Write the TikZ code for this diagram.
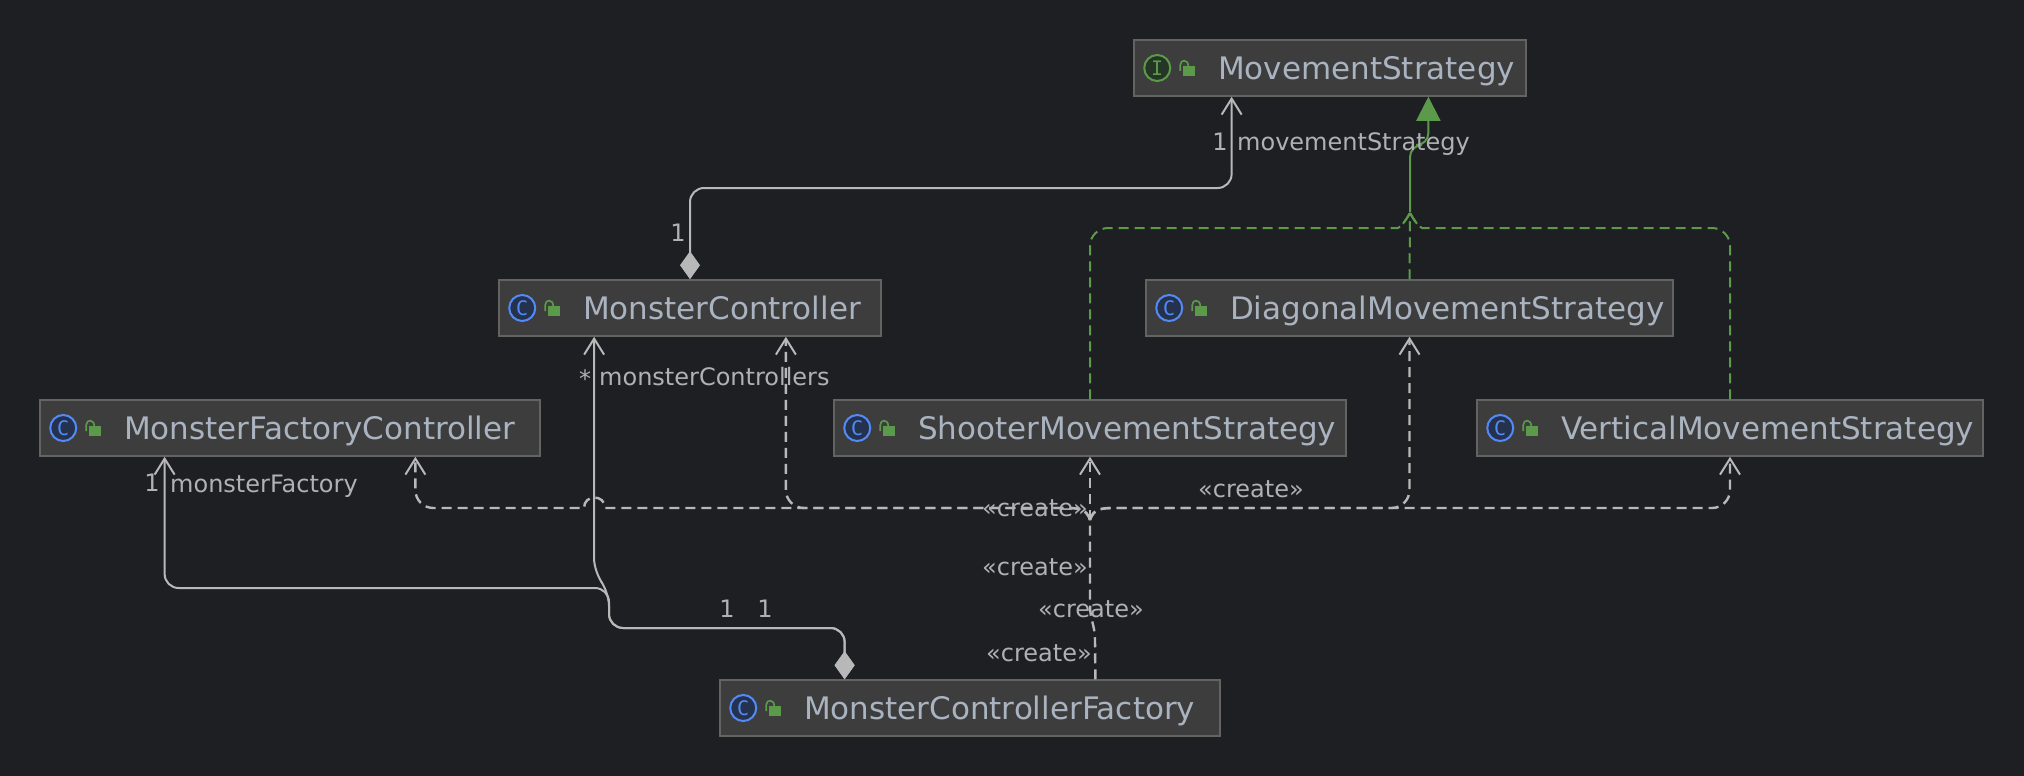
\documentclass[tikz,border=0pt]{standalone}
\usepackage{fontspec}
\setmainfont{DejaVu Sans}
\setmonofont{DejaVu Sans Mono}
\usetikzlibrary{arrows.meta}

\definecolor{canvas}{HTML}{1E1F22}
\definecolor{boxfill}{HTML}{3D3D3D}
\definecolor{boxline}{HTML}{636462}
\definecolor{classtext}{HTML}{AAB3C0}
\definecolor{labeltext}{HTML}{AFB1B3}
\definecolor{wire}{HTML}{B8B8B8}
\definecolor{inherit}{HTML}{5B9A4B}
\definecolor{classblue}{HTML}{548AF7}
\definecolor{classdark}{HTML}{25324D}
\definecolor{ifacedark}{HTML}{253627}

\tikzset{
    classbox/.style={draw=boxline, fill=boxfill, line width=1.5pt, text=classtext, font=\fontsize{31}{36}\selectfont,
        minimum height=56pt, inner xsep=8pt, inner ysep=0pt, align=left, text height=28pt, text depth=6pt,
        execute at begin node=\hspace*{76pt}},
    edgelabel/.style={text=labeltext, font=\fontsize{24}{28}\selectfont, inner sep=0pt},
    assoc/.style={draw=wire, line width=2pt, rounded corners=14pt},
    dep/.style={draw=wire, line width=2.4pt, dash pattern=on 10pt off 6pt, rounded corners=18pt},
    real/.style={draw=inherit, line width=2pt, dash pattern=on 10pt off 6pt, rounded corners=18pt},
    open/.style={-{Straight Barb[length=16pt,width=20pt,line width=2pt]}},
    comp/.style={{Diamond[length=28pt,width=20pt,fill=wire]}-{Straight Barb[length=16pt,width=20pt,line width=2pt]}},
}

\begin{document}
\begin{tikzpicture}[x=1pt, y=-1pt]
    \useasboundingbox (0,0) rectangle (2024,776);
    \fill[canvas] (0,0) rectangle (2024,776);

    % Classes
    \node[classbox, text width=376pt] (ms) at (1330,68) {MovementStrategy};
    \node[classbox, text width=366pt] (mc) at (690,308) {MonsterController};
    \node[classbox, text width=511pt] (dms) at (1409.5,308) {DiagonalMovementStrategy};
    \node[classbox, text width=484pt] (mfc) at (290,428) {MonsterFactoryController};
    \node[classbox, text width=496pt] (sms) at (1090,428) {ShooterMovementStrategy};
    \node[classbox, text width=490pt] (vms) at (1730,428) {VerticalMovementStrategy};
    \node[classbox, text width=484pt] (mcf) at (970,708) {MonsterControllerFactory};

    % Quarter points on the box edges
    \foreach \n in {ms,mc,mfc}
        \path (\n.south west) -- (\n.south east) coordinate[pos=.25] (\n-sl) coordinate[pos=.75] (\n-sr);
    \path (mcf.north west) -- (mcf.north east) coordinate[pos=.25] (mcf-nl) coordinate[pos=.75] (mcf-nr);

    % Icons
    \foreach \n/\r/\c/\d in {mc/C/classblue/classdark,dms/C/classblue/classdark,mfc/C/classblue/classdark,
        sms/C/classblue/classdark,vms/C/classblue/classdark,mcf/C/classblue/classdark,ms/I/inherit/ifacedark} {
        \node[circle, draw=\c, fill=\d, line width=2pt, minimum size=26pt, inner sep=0pt,
            text=\c, font=\ttfamily\fontsize{20}{20}\selectfont] (\n-icon) at ([xshift=24pt]\n.west) {\r};
        \fill[inherit] ([xshift=50pt,yshift=2pt]\n.west) rectangle ([xshift=62pt,yshift=-8pt]\n.west);
        \draw[inherit, line width=1.6pt] ([xshift=47pt,yshift=-3pt]\n.west) -- ([xshift=47pt,yshift=3pt]\n.west)
            .. controls ([xshift=47pt,yshift=9pt]\n.west) and ([xshift=55pt,yshift=9pt]\n.west) .. ([xshift=55pt,yshift=2pt]\n.west);
    }

    % Composition from MonsterController
    \draw[assoc, comp] (mc.north) -- (mc.north |- 0,188) -- (ms-sl |- 0,188) -- (ms-sl);

    % Composition from the factory
    \draw[assoc, comp] (mcf-nl) -- (mcf-nl |- 0,628) -- (609,628) -- (609,588) -- (mfc-sl |- 0,588) -- (mfc-sl);
    \draw[assoc, comp] (mcf-nl) -- (mcf-nl |- 0,628) -- (609,628) -- (609,592) -- (594,572) -- (mc-sl);

    % Realizations
    \coordinate (greenJoin) at (1410,212);
    \draw[real, -{Straight Barb[length=10pt,width=14pt,line width=2pt]}] (dms.north) -- (greenJoin);
    \draw[real] (sms.north) -- (sms.north |- 0,228) -- (1380,228) [sharp corners] .. controls (1398,228) and (1405,224) .. (greenJoin);
    \draw[real] (vms.north) -- (vms.north |- 0,228) -- (1440,228) [sharp corners] .. controls (1422,228) and (1415,224) .. (greenJoin);
    \draw[draw=inherit, line width=2pt, rounded corners=12pt, -{Triangle[length=24pt,width=24pt]}]
        (greenJoin) -- (1410,145) -- (ms-sr |- 0,145) -- (ms-sr);

    % Create dependencies
    \coordinate (createJoin) at (1090,520);
    \draw[dep, sharp corners] (mcf-nr) -- (1095,640) .. controls (1095,625) and (1090,620) .. (1090,605) -- (createJoin);
    \draw[dep, open, sharp corners] (createJoin) -- (sms.south);
    \draw[dep, open, sharp corners] (createJoin) .. controls (1087,510) and (1080,508) .. (1068,508) [rounded corners=18pt]
        -- (mc-sr |- 0,508) -- (mc-sr);
    \draw[dep, open, sharp corners] (createJoin) .. controls (1087,510) and (1080,508) .. (1068,508) -- (605,508)
        .. controls (605,494) and (584,494) .. (584,508) [rounded corners=18pt] -- (mfc-sr |- 0,508) -- (mfc-sr);
    \draw[dep, open, sharp corners] (createJoin) .. controls (1093,510) and (1100,508) .. (1112,508) [rounded corners=18pt]
        -- (dms.south |- 0,508) -- (dms.south);
    \draw[dep, open, sharp corners] (createJoin) .. controls (1093,510) and (1100,508) .. (1112,508) [rounded corners=18pt]
        -- (vms.south |- 0,508) -- (vms.south);

    % Labels
    \node[edgelabel] (lone) at (678,233) {1};
    \node[edgelabel] (ltwo) at (1220,142) {1};
    \node[edgelabel, anchor=west] (lmove) at (1237,144) {movementStrategy};
    \node[edgelabel] (lstar) at (585,379) {*};
    \node[edgelabel, anchor=west] (lctrl) at (599,377) {monsterControllers};
    \node[edgelabel] (lthree) at (152,483) {1};
    \node[edgelabel, anchor=west] (lfact) at (170,486) {monsterFactory};
    \node[edgelabel] (lfour) at (727,609) {1};
    \node[edgelabel] (lfive) at (765,609) {1};
    \node[edgelabel] (cra) at (1035,508) {«create»};
    \node[edgelabel] (crb) at (1251,489) {«create»};
    \node[edgelabel] (crc) at (1035,567) {«create»};
    \node[edgelabel] (crd) at (1091,609) {«create»};
    \node[edgelabel] (cre) at (1039,653) {«create»};
\end{tikzpicture}
\end{document}
